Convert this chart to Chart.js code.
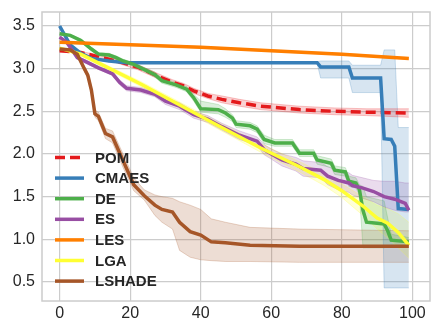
<!DOCTYPE html>
<html lang="en">
<head>
  <meta charset="UTF-8">
  <title>Convergence</title>
  <script src="https://cdn.jsdelivr.net/npm/chart.js"></script>
  <style>
    body { margin: 0; background: #ffffff; }
    #wrap { width: 443px; height: 336px; position: relative; }
  </style>
</head>
<body>
  <div id="wrap"><canvas id="graph"></canvas></div>
  <script>
    // tick labels
    const xTicks = [0, 20, 40, 60, 80, 100];
    const yTicks = [0.5, 1.0, 1.5, 2.0, 2.5, 3.0, 3.5];

    // POM
    const pomX  = [0, 6, 10, 16, 22, 28, 32, 35, 38, 42, 46, 51, 57, 68, 78, 87, 99];
    const pomY  = [3.21, 3.19, 3.15, 3.09, 3.02, 2.91, 2.84, 2.80, 2.74, 2.68, 2.64, 2.60, 2.56, 2.52, 2.50, 2.49, 2.48];
    const pomHi = [3.22, 3.20, 3.17, 3.11, 3.05, 2.94, 2.87, 2.83, 2.77, 2.71, 2.68, 2.64, 2.60, 2.56, 2.54, 2.53, 2.53];
    const pomLo = [3.20, 3.18, 3.13, 3.07, 2.99, 2.88, 2.81, 2.77, 2.71, 2.65, 2.60, 2.56, 2.52, 2.48, 2.46, 2.45, 2.43];

    // CMAES
    const cmaesX  = [0, 3, 6, 9, 14, 19, 73, 74, 82, 83, 91, 92, 94, 95, 96, 99];
    const cmaesY  = [3.50, 3.28, 3.18, 3.12, 3.09, 3.07, 3.07, 3.02, 3.02, 2.89, 2.89, 2.18, 2.17, 2.09, 1.36, 1.35];
    const cmaesHi = [3.51, 3.29, 3.19, 3.13, 3.10, 3.08, 3.08, 3.09, 3.09, 3.04, 3.04, 3.22, 3.22, 3.22, 2.31, 2.31];
    const cmaesLo = [3.49, 3.27, 3.17, 3.11, 3.08, 3.06, 3.06, 2.89, 2.89, 2.72, 2.72, 0.43, 0.43, 0.43, 0.43, 0.43];

    // DE
    const deX  = [0, 3, 6, 9, 11, 14, 16, 18, 21, 23, 27, 29, 33, 36, 38, 40, 45, 47, 49, 50,
                  54, 56, 58, 61, 66, 68, 72, 73, 77, 78, 81, 82, 84, 85, 86, 87, 92, 93, 94, 99];
    const deY  = [3.41, 3.39, 3.33, 3.23, 3.17, 3.16, 3.13, 3.09, 3.05, 3.01, 2.93, 2.86, 2.81, 2.76, 2.66, 2.53, 2.52, 2.48, 2.42, 2.35,
                  2.33, 2.29, 2.17, 2.13, 2.13, 2.01, 2.01, 1.93, 1.89, 1.81, 1.79, 1.68, 1.66, 1.58, 1.34, 1.20, 1.18, 1.10, 0.99, 0.97];
    const deHi = [3.42, 3.40, 3.35, 3.25, 3.19, 3.18, 3.15, 3.11, 3.07, 3.03, 2.96, 2.89, 2.84, 2.79, 2.70, 2.62, 2.58, 2.53, 2.46, 2.39,
                  2.37, 2.33, 2.22, 2.17, 2.17, 2.05, 2.05, 1.98, 1.94, 1.86, 1.84, 1.74, 1.72, 1.64, 1.62, 1.50, 1.45, 1.25, 1.06, 1.02];
    const deLo = [3.40, 3.38, 3.31, 3.21, 3.15, 3.14, 3.11, 3.07, 3.03, 2.99, 2.90, 2.83, 2.78, 2.73, 2.62, 2.49, 2.47, 2.43, 2.38, 2.31,
                  2.29, 2.25, 2.12, 2.09, 2.09, 1.97, 1.97, 1.88, 1.84, 1.76, 1.74, 1.62, 1.60, 1.52, 0.90, 0.90, 0.90, 0.92, 0.93, 0.93];

    // ES
    const esX  = [0, 2, 3, 5, 8, 11, 15, 17, 19, 23, 27, 30, 34, 38, 42, 46, 51, 56, 58, 60,
                  63, 67, 69, 74, 76, 79, 82, 83, 86, 89, 92, 95, 98, 99];
    const esY  = [3.37, 3.31, 3.25, 3.13, 3.07, 3.01, 2.94, 2.84, 2.77, 2.75, 2.70, 2.62, 2.56, 2.46, 2.41, 2.32, 2.22, 2.15, 2.05, 2.00,
                  1.93, 1.88, 1.83, 1.81, 1.74, 1.69, 1.66, 1.63, 1.60, 1.56, 1.50, 1.47, 1.42, 1.34];
    const esHi = [3.38, 3.33, 3.27, 3.15, 3.09, 3.03, 2.96, 2.87, 2.80, 2.78, 2.73, 2.66, 2.60, 2.50, 2.45, 2.36, 2.27, 2.20, 2.11, 2.06,
                  2.00, 1.96, 1.92, 1.90, 1.85, 1.80, 1.78, 1.75, 1.72, 1.69, 1.68, 1.68, 1.66, 1.66];
    const esLo = [3.36, 3.29, 3.23, 3.11, 3.05, 2.99, 2.92, 2.81, 2.74, 2.72, 2.67, 2.58, 2.52, 2.42, 2.37, 2.28, 2.17, 2.10, 1.99, 1.94,
                  1.86, 1.80, 1.74, 1.72, 1.64, 1.58, 1.55, 1.52, 1.48, 1.44, 1.38, 1.34, 1.32, 1.32];

    // LES
    const lesX  = [0, 20, 40, 60, 80, 99];
    const lesY  = [3.31, 3.28, 3.25, 3.21, 3.17, 3.12];
    const lesHi = [3.32, 3.29, 3.26, 3.22, 3.18, 3.13];
    const lesLo = [3.30, 3.27, 3.24, 3.20, 3.16, 3.11];

    // LGA
    const lgaX  = [0, 6, 23, 45, 57, 68, 75, 80, 86, 90, 93, 96, 99];
    const lgaY  = [3.24, 3.17, 2.82, 2.33, 2.07, 1.85, 1.70, 1.57, 1.39, 1.25, 1.19, 1.08, 0.93];
    const lgaHi = [3.25, 3.19, 2.85, 2.37, 2.12, 1.91, 1.77, 1.65, 1.50, 1.40, 1.36, 1.30, 1.20];
    const lgaLo = [3.23, 3.15, 2.79, 2.29, 2.02, 1.79, 1.63, 1.49, 1.28, 1.12, 1.02, 0.90, 0.78];

    // LSHADE
    const lshadeX  = [0, 3, 5, 7, 8, 9, 10, 11, 13, 15, 18, 21, 24, 27, 29, 32, 34, 37, 40, 43, 47, 54, 68, 99];
    const lshadeY  = [3.23, 3.22, 3.17, 3.00, 2.92, 2.75, 2.47, 2.44, 2.24, 2.20, 1.92, 1.64, 1.51, 1.40, 1.35, 1.32, 1.20, 1.09, 1.05, 0.97, 0.96, 0.93, 0.92, 0.92];
    const lshadeHi = [3.24, 3.23, 3.19, 3.03, 2.95, 2.79, 2.51, 2.49, 2.30, 2.27, 2.00, 1.72, 1.58, 1.52, 1.50, 1.48, 1.44, 1.40, 1.35, 1.24, 1.20, 1.14, 1.12, 1.10];
    const lshadeLo = [3.22, 3.21, 3.15, 2.97, 2.89, 2.71, 2.43, 2.39, 2.18, 2.13, 1.84, 1.57, 1.46, 1.28, 1.20, 1.12, 0.87, 0.79, 0.76, 0.75, 0.74, 0.74, 0.73, 0.73];

    const series = [
      { label: 'POM',    rgb: '228,26,28',   x: pomX,    y: pomY,    hi: pomHi,    lo: pomLo,    dash: [10, 5] },
      { label: 'CMAES',  rgb: '55,126,184',  x: cmaesX,  y: cmaesY,  hi: cmaesHi,  lo: cmaesLo },
      { label: 'DE',     rgb: '77,175,74',   x: deX,     y: deY,     hi: deHi,     lo: deLo },
      { label: 'ES',     rgb: '152,78,163',  x: esX,     y: esY,     hi: esHi,     lo: esLo },
      { label: 'LES',    rgb: '255,127,0',   x: lesX,    y: lesY,    hi: lesHi,    lo: lesLo },
      { label: 'LGA',    rgb: '255,255,51',  x: lgaX,    y: lgaY,    hi: lgaHi,    lo: lgaLo },
      { label: 'LSHADE', rgb: '166,86,40',   x: lshadeX, y: lshadeY, hi: lshadeHi, lo: lshadeLo }
    ];

    const pts = (xs, ys) => xs.map((x, i) => ({ x: x, y: ys[i] }));

    const datasets = [];
    series.forEach((s, k) => {
      // band (upper edge, then lower edge filled to it)
      datasets.push({
        label: s.label + ' hi', data: pts(s.x, s.hi),
        borderColor: 'rgba(' + s.rgb + ',0.3)', borderWidth: 0.8,
        pointRadius: 0, fill: false, order: 100 + k
      });
      datasets.push({
        label: s.label + ' lo', data: pts(s.x, s.lo),
        borderColor: 'rgba(' + s.rgb + ',0.3)', borderWidth: 0.8,
        backgroundColor: 'rgba(' + s.rgb + ',0.2)',
        pointRadius: 0, fill: '-1', order: 100 + k
      });
    });
    series.forEach((s, k) => {
      datasets.push({
        label: s.label, data: pts(s.x, s.y),
        borderColor: 'rgb(' + s.rgb + ')', borderWidth: 3.5,
        borderDash: s.dash || [], pointRadius: 0, fill: false,
        order: series.length - k
      });
    });

    // legend drawn inside the plot, lower left, no frame
    const legendInside = {
      id: 'legendInside',
      afterDatasetsDraw(chart) {
        const ctx = chart.ctx;
        ctx.save();
        ctx.font = 'bold 15px "Liberation Sans", Arial, sans-serif';
        ctx.textBaseline = 'middle';
        series.forEach((s, i) => {
          const y = 157.5 + i * 20.6;
          ctx.strokeStyle = 'rgb(' + s.rgb + ')';
          ctx.lineWidth = 3.5;
          ctx.setLineDash(s.dash || []);
          ctx.beginPath();
          ctx.moveTo(55, y);
          ctx.lineTo(84, y);
          ctx.stroke();
          ctx.setLineDash([]);
          ctx.fillStyle = '#262626';
          ctx.fillText(s.label, 95, y + 1);
        });
        ctx.restore();
      }
    };

    const frame = {
      id: 'frame',
      afterDraw(chart) {
        const a = chart.chartArea, ctx = chart.ctx;
        ctx.save();
        ctx.strokeStyle = '#cccccc';
        ctx.lineWidth = 1.5;
        ctx.strokeRect(a.left, a.top, a.right - a.left, a.bottom - a.top);
        ctx.restore();
      }
    };

    new Chart(document.getElementById('graph'), {
      type: 'line',
      data: { datasets: datasets },
      plugins: [legendInside, frame],
      options: {
        responsive: true,
        maintainAspectRatio: false,
        animation: false,
        layout: { padding: { top: 12, right: 13, left: 0, bottom: 0 } },
        elements: { line: { tension: 0 } },
        plugins: {
          legend: { display: false },
          tooltip: { enabled: false },
          filler: { drawTime: 'beforeDatasetsDraw' }
        },
        scales: {
          x: {
            type: 'linear', min: -5, max: 105,
            afterBuildTicks: sc => { sc.ticks = xTicks.map(v => ({ value: v })); },
            afterFit: sc => { sc.height = 35; },
            grid: { color: '#cccccc', lineWidth: 1.2, drawTicks: false },
            border: { display: false },
            ticks: { padding: 3, color: '#262626', font: { family: '"Liberation Sans", Arial, sans-serif', size: 16 },
                     callback: v => String(v) }
          },
          y: {
            type: 'linear', min: 0.277, max: 3.664,
            afterBuildTicks: sc => { sc.ticks = yTicks.map(v => ({ value: v })); },
            afterFit: sc => { sc.width = 42; },
            grid: { color: '#cccccc', lineWidth: 1.2, drawTicks: false },
            border: { display: false },
            ticks: { padding: 7, color: '#262626',
                     font: { family: '"Liberation Sans", Arial, sans-serif', size: 16, lineHeight: 0.6 },
                     callback: v => v.toFixed(1) }
          }
        }
      }
    });
  </script>
</body>
</html>
